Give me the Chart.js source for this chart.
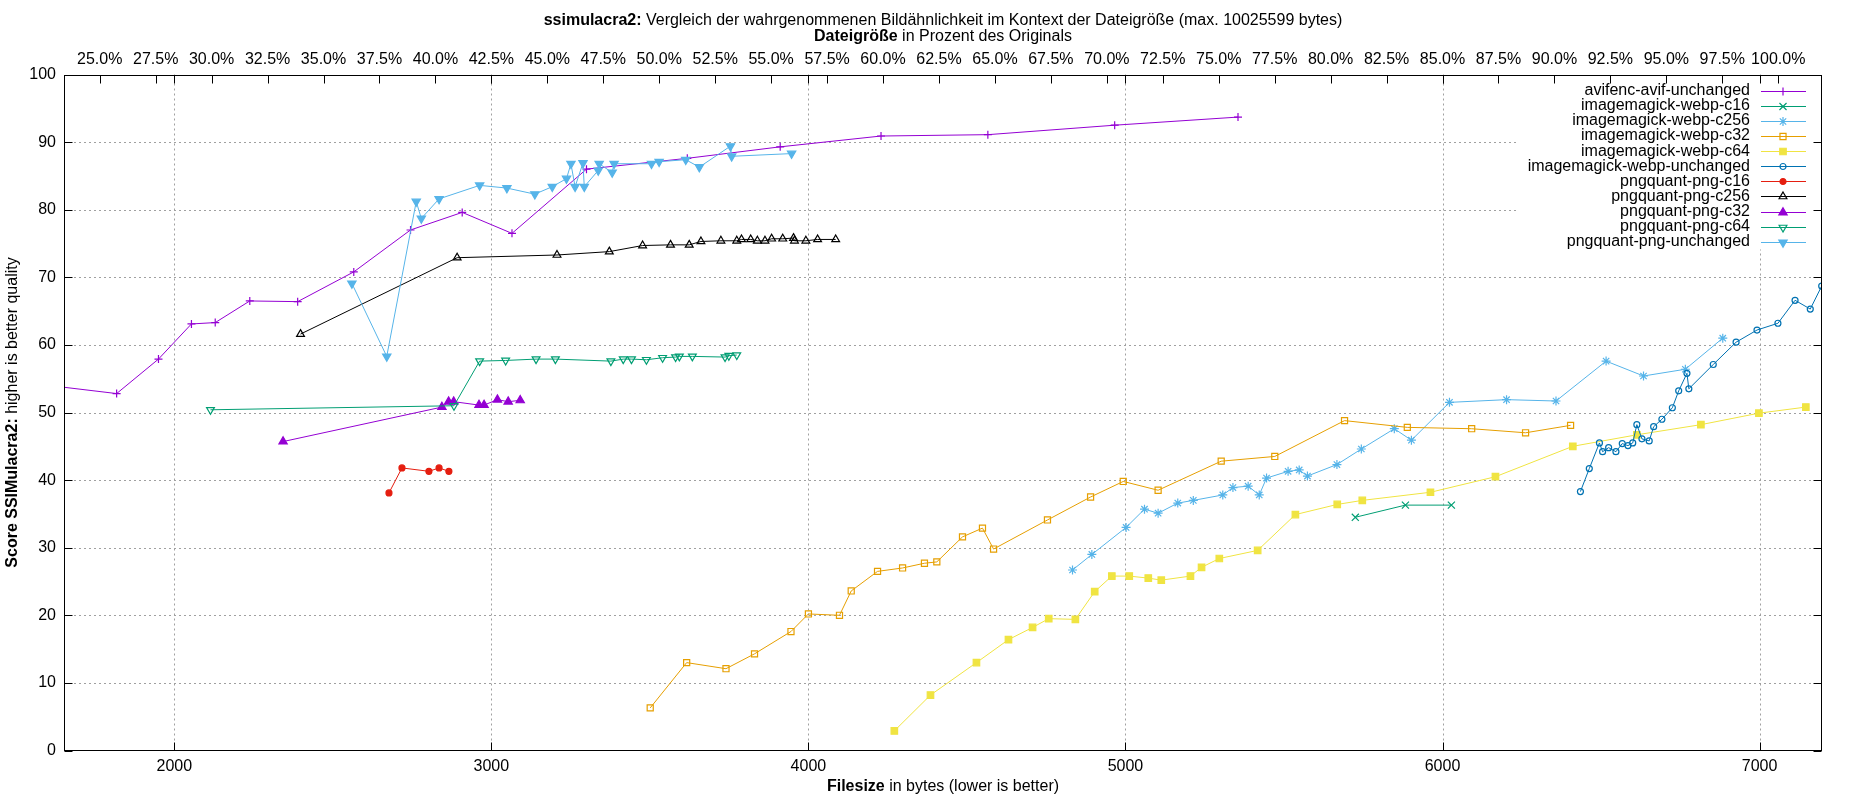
<!DOCTYPE html>
<html><head><meta charset="utf-8">
<script src="https://cdn.jsdelivr.net/npm/chart.js@4.4.0/dist/chart.umd.min.js"></script>
<style>html,body{margin:0;padding:0;background:#fff}canvas{display:block}</style>
</head><body>
<canvas id="c" width="1850" height="800"></canvas>
<script>
// ---------- data ----------
const ORIGINAL_SIZE = 7059;           // bytes corresponding to 100 %
const X_MIN = 1652, X_MAX = 7197;

const xTickValues = [2000, 3000, 4000, 5000, 6000, 7000];
const yTickValues = [0, 10, 20, 30, 40, 50, 60, 70, 80, 90, 100];
const topTickValues = [25.0, 27.5, 30.0, 32.5, 35.0, 37.5, 40.0, 42.5, 45.0, 47.5, 50.0, 52.5, 55.0, 57.5, 60.0, 62.5, 65.0, 67.5, 70.0, 72.5, 75.0, 77.5, 80.0, 82.5, 85.0, 87.5, 90.0, 92.5, 95.0, 97.5, 100.0];

const seriesNames = ['avifenc-avif-unchanged','imagemagick-webp-c16','imagemagick-webp-c256','imagemagick-webp-c32','imagemagick-webp-c64','imagemagick-webp-unchanged','pngquant-png-c16','pngquant-png-c256','pngquant-png-c32','pngquant-png-c64','pngquant-png-unchanged'];

const avifX = [1640, 1818, 1950, 2054, 2129, 2238, 2389, 2566, 2745, 2908, 3065, 3300, 3618, 3911, 4229, 4566, 4966, 5355];
const avifY = [53.8, 52.8, 57.9, 63.1, 63.3, 66.5, 66.4, 70.8, 77.0, 79.6, 76.5, 86.0, 87.6, 89.3, 90.9, 91.1, 92.5, 93.7];

const webpC16X = [5725, 5883, 6028];
const webpC16Y = [34.5, 36.3, 36.3];

const webpC256X = [4833, 4894, 5002, 5060, 5103, 5165, 5214, 5307, 5339, 5387, 5422, 5445, 5513, 5548, 5574, 5667, 5744, 5848, 5902, 6022, 6202, 6358, 6516, 6634, 6766, 6884];
const webpC256Y = [26.7, 29.0, 33.0, 35.7, 35.1, 36.6, 37.0, 37.8, 38.9, 39.1, 37.8, 40.3, 41.3, 41.5, 40.6, 42.3, 44.6, 47.6, 45.9, 51.5, 51.9, 51.7, 57.6, 55.4, 56.4, 61.0];

const webpC32X = [3501, 3616, 3740, 3830, 3945, 4000, 4098, 4135, 4218, 4297, 4366, 4405, 4486, 4549, 4584, 4754, 4890, 4993, 5103, 5302, 5471, 5691, 5889, 6092, 6262, 6404];
const webpC32Y = [6.3, 13.0, 12.1, 14.3, 17.6, 20.2, 20.0, 23.6, 26.5, 27.0, 27.7, 27.9, 31.6, 32.9, 29.8, 34.1, 37.5, 39.8, 38.5, 42.8, 43.5, 48.8, 47.8, 47.6, 47.0, 48.1];

const webpC64X = [4271, 4385, 4530, 4631, 4707, 4758, 4842, 4903, 4957, 5012, 5072, 5113, 5205, 5240, 5296, 5417, 5536, 5668, 5747, 5962, 6167, 6411, 6613, 6815, 6998, 7146];
const webpC64Y = [2.9, 8.2, 13.0, 16.4, 18.2, 19.5, 19.4, 23.5, 25.8, 25.8, 25.5, 25.2, 25.8, 27.1, 28.4, 29.6, 34.9, 36.4, 37.0, 38.2, 40.5, 45.0, 46.7, 48.2, 49.9, 50.8];

const webpUnchX = [6435, 6463, 6495, 6505, 6524, 6547, 6567, 6585, 6600, 6613, 6629, 6652, 6666, 6692, 6725, 6745, 6771, 6777, 6854, 6926, 6992, 7058, 7112, 7160, 7196];
const webpUnchY = [38.3, 41.7, 45.5, 44.2, 44.8, 44.2, 45.4, 45.1, 45.5, 48.2, 46.1, 45.8, 47.9, 49.0, 50.7, 53.2, 55.8, 53.5, 57.1, 60.4, 62.2, 63.2, 66.6, 65.3, 68.7];

const pngC16X = [2677, 2718, 2803, 2835, 2866];
const pngC16Y = [38.1, 41.8, 41.3, 41.8, 41.3];

const pngC256X = [2398, 2892, 3207, 3372, 3477, 3565, 3624, 3661, 3724, 3774, 3789, 3818, 3839, 3863, 3884, 3919, 3953, 3956, 3992, 4029, 4086];
const pngC256Y = [61.6, 72.9, 73.3, 73.8, 74.7, 74.8, 74.8, 75.3, 75.4, 75.4, 75.6, 75.6, 75.4, 75.4, 75.7, 75.7, 75.8, 75.4, 75.4, 75.6, 75.6];

const pngC32X = [2343, 2844, 2865, 2881, 2961, 2977, 3019, 3053, 3091];
const pngC32Y = [45.7, 50.8, 51.6, 51.6, 51.1, 51.1, 51.9, 51.6, 51.8];

const pngC64X = [2114, 2882, 2963, 3045, 3141, 3202, 3377, 3416, 3442, 3489, 3540, 3581, 3593, 3634, 3737, 3749, 3774];
const pngC64Y = [50.4, 51.0, 57.6, 57.7, 57.9, 57.9, 57.6, 57.9, 57.9, 57.8, 58.1, 58.2, 58.3, 58.3, 58.2, 58.4, 58.5];

const pngUnchX = [2560, 2670, 2763, 2779, 2835, 2963, 3049, 3137, 3192, 3237, 3251, 3264, 3289, 3293, 3337, 3340, 3381, 3387, 3505, 3529, 3613, 3656, 3754, 3758, 3947];
const pngUnchY = [69.1, 58.3, 81.2, 78.7, 81.6, 83.6, 83.2, 82.3, 83.4, 84.6, 86.8, 83.4, 86.9, 83.4, 85.8, 86.8, 85.5, 86.8, 86.8, 87.1, 87.4, 86.3, 89.4, 87.9, 88.3];

// ---------- styles ----------
const FONT = '"Liberation Sans", Arial, Helvetica, sans-serif';
const FS = 16;
const styles = [
  {color:'#9400d3', style:'cross',    radius:4,   fill:false, rot:0},
  {color:'#009e73', style:'crossRot', radius:5,   fill:false, rot:0},
  {color:'#56b4e9', style:'star',     radius:4.5, fill:false, rot:0},
  {color:'#e69f00', style:'rect',     radius:4.3, fill:false, rot:0},
  {color:'#f0e442', style:'rect',     radius:4.6, fill:true,  rot:0},
  {color:'#0072b2', style:'circle',   radius:3,   fill:false, rot:0},
  {color:'#e51e10', style:'circle',   radius:3,   fill:true,  rot:0},
  {color:'#000000', style:'triangle', radius:4.5, fill:false, rot:0},
  {color:'#9400d3', style:'triangle', radius:4.8, fill:true,  rot:0},
  {color:'#009e73', style:'triangle', radius:4.5, fill:false, rot:180},
  {color:'#56b4e9', style:'triangle', radius:4.8, fill:true,  rot:180}
];
const seriesX = [avifX, webpC16X, webpC256X, webpC32X, webpC64X, webpUnchX, pngC16X, pngC256X, pngC32X, pngC64X, pngUnchX];
const seriesY = [avifY, webpC16Y, webpC256Y, webpC32Y, webpC64Y, webpUnchY, pngC16Y, pngC256Y, pngC32Y, pngC64Y, pngUnchY];

const datasets = seriesNames.map((name, i) => {
  const s = styles[i];
  return {
    label: name,
    data: seriesX[i].map((x, k) => ({x: x, y: seriesY[i][k]})),
    showLine: true,
    borderColor: s.color,
    borderWidth: 1,
    backgroundColor: s.fill ? s.color : 'rgba(0,0,0,0)',
    pointStyle: s.style,
    pointRadius: s.radius,
    pointRotation: s.rot,
    pointBorderWidth: 1.2,
    pointBorderColor: s.color,
    pointBackgroundColor: s.fill ? s.color : 'rgba(0,0,0,0)',
    xAxisID: 'x', yAxisID: 'y',
    order: seriesNames.length - i
  };
});

// ---------- helpers ----------
function drawMarker(ctx, s, x, y) {
  const r = s.radius;
  ctx.save();
  ctx.translate(x, y);
  ctx.rotate(s.rot * Math.PI / 180);
  ctx.strokeStyle = s.color; ctx.fillStyle = s.color; ctx.lineWidth = 1.2;
  ctx.beginPath();
  if (s.style === 'cross') { ctx.moveTo(-r,0); ctx.lineTo(r,0); ctx.moveTo(0,-r); ctx.lineTo(0,r); ctx.stroke(); }
  else if (s.style === 'crossRot') { const d = r*Math.SQRT1_2; ctx.moveTo(-d,-d); ctx.lineTo(d,d); ctx.moveTo(-d,d); ctx.lineTo(d,-d); ctx.stroke(); }
  else if (s.style === 'star') { const d = r*Math.SQRT1_2; ctx.moveTo(-r,0); ctx.lineTo(r,0); ctx.moveTo(0,-r); ctx.lineTo(0,r); ctx.moveTo(-d,-d); ctx.lineTo(d,d); ctx.moveTo(-d,d); ctx.lineTo(d,-d); ctx.stroke(); }
  else if (s.style === 'rect') { const h = r*Math.SQRT1_2; ctx.rect(-h,-h,2*h,2*h); if (s.fill) ctx.fill(); ctx.stroke(); }
  else if (s.style === 'circle') { ctx.arc(0,0,r,0,Math.PI*2); if (s.fill) ctx.fill(); ctx.stroke(); }
  else if (s.style === 'triangle') {
    for (let k = 0; k < 3; k++) { const a = -Math.PI/2 + k*2*Math.PI/3; const px = Math.cos(a)*r, py = Math.sin(a)*r; if (k===0) ctx.moveTo(px,py); else ctx.lineTo(px,py); }
    ctx.closePath(); if (s.fill) ctx.fill(); ctx.stroke();
  }
  ctx.restore();
}
function drawMixed(ctx, parts, cx, y) {
  let total = 0;
  const widths = parts.map(p => { ctx.font = (p.bold ? 'bold ' : '') + FS + 'px ' + FONT; const w = ctx.measureText(p.text).width; total += w; return w; });
  let x = cx - total / 2;
  ctx.textAlign = 'left';
  parts.forEach((p, i) => { ctx.font = (p.bold ? 'bold ' : '') + FS + 'px ' + FONT; ctx.fillText(p.text, x, y); x += widths[i]; });
}

const LEGEND_LEFT_OFFSET = 304;   // distance of the key box from the right border
const LEGEND_HEIGHT = 174;

const gnuplotLook = {
  id: 'gnuplotLook',
  beforeDatasetsDraw(chart) {
    const {ctx, chartArea: ca, scales} = chart;
    ctx.save();
    ctx.strokeStyle = '#a0a0a0'; ctx.lineWidth = 1; ctx.setLineDash([2, 3]);
    scales.x.ticks.forEach(t => {
      const px = Math.round(scales.x.getPixelForValue(t.value)) + 0.5;
      ctx.beginPath(); ctx.moveTo(px, ca.bottom); ctx.lineTo(px, ca.top); ctx.stroke();
    });
    scales.y.ticks.forEach(t => {
      if (t.value <= 0 || t.value >= 100) return;
      const py = Math.round(scales.y.getPixelForValue(t.value)) + 0.5;
      ctx.beginPath(); ctx.moveTo(ca.left, py); ctx.lineTo(ca.right, py); ctx.stroke();
    });
    ctx.setLineDash([]);
    // opaque key box
    ctx.fillStyle = '#fff';
    ctx.fillRect(ca.right - LEGEND_LEFT_OFFSET, ca.top + 1, LEGEND_LEFT_OFFSET - 1, LEGEND_HEIGHT);
    ctx.restore();
  },
  afterDatasetsDraw(chart) {
    const {ctx, chartArea: ca, scales} = chart;
    ctx.save();
    // frame
    ctx.strokeStyle = '#000'; ctx.lineWidth = 1;
    const L = Math.round(ca.left) + 0.5, R = Math.round(ca.right) - 0.5, T = Math.round(ca.top) + 0.5, B = Math.round(ca.bottom) - 0.5;
    ctx.strokeRect(L, T, R - L, B - T);
    // inward ticks
    const TL = 8;
    ctx.beginPath();
    scales.x.ticks.forEach(t => {
      const px = Math.round(scales.x.getPixelForValue(t.value)) + 0.5;
      ctx.moveTo(px, B); ctx.lineTo(px, B - TL);
      ctx.moveTo(px, T); ctx.lineTo(px, T + TL);
    });
    scales.x2.ticks.forEach(t => {
      const px = Math.round(scales.x2.getPixelForValue(t.value)) + 0.5;
      ctx.moveTo(px, T); ctx.lineTo(px, T + TL);
    });
    scales.y.ticks.forEach(t => {
      const py = Math.round(scales.y.getPixelForValue(t.value)) + 0.5;
      ctx.moveTo(L, py); ctx.lineTo(L + TL, py);
      ctx.moveTo(R, py); ctx.lineTo(R - TL, py);
    });
    ctx.stroke();

    // key
    ctx.font = FS + 'px ' + FONT;
    ctx.fillStyle = '#000'; ctx.textAlign = 'right'; ctx.textBaseline = 'middle';
    const textRight = ca.right - 72, lineA = ca.right - 61, lineB = ca.right - 16, markX = ca.right - 39;
    seriesNames.forEach((name, i) => {
      const y = ca.top + 16.2 + i * 15.1;
      ctx.fillStyle = '#000';
      ctx.fillText(name, textRight, y);
      ctx.strokeStyle = styles[i].color; ctx.lineWidth = 1;
      ctx.beginPath(); ctx.moveTo(lineA, Math.round(y) + 0.5); ctx.lineTo(lineB, Math.round(y) + 0.5); ctx.stroke();
      drawMarker(ctx, styles[i], markX, Math.round(y) + 0.5);
    });

    // titles
    ctx.fillStyle = '#000'; ctx.textBaseline = 'middle';
    const cx = (ca.left + ca.right) / 2;
    drawMixed(ctx, [{text:'ssimulacra2:', bold:true}, {text:' Vergleich der wahrgenommenen Bildähnlichkeit im Kontext der Dateigröße (max. 10025599 bytes)', bold:false}], cx, 21);
    drawMixed(ctx, [{text:'Dateigröße', bold:true}, {text:' in Prozent des Originals', bold:false}], cx, 37);
    drawMixed(ctx, [{text:'Filesize', bold:true}, {text:' in bytes (lower is better)', bold:false}], cx, 787);
    ctx.save();
    ctx.translate(13, (ca.top + ca.bottom) / 2);
    ctx.rotate(-Math.PI / 2);
    drawMixed(ctx, [{text:'Score SSIMulacra2:', bold:true}, {text:' higher is better quality', bold:false}], 0, 0);
    ctx.restore();
    ctx.restore();
  }
};

const tickFont = {family: FONT, size: FS};
new Chart(document.getElementById('c'), {
  type: 'scatter',
  data: {datasets: datasets},
  options: {
    responsive: false, animation: false, devicePixelRatio: 1, events: [],
    layout: {padding: {left: 0, right: 28, top: 0, bottom: 0}},
    plugins: {legend: {display: false}, title: {display: false}, tooltip: {enabled: false}},
    scales: {
      x: {
        type: 'linear', position: 'bottom', min: X_MIN, max: X_MAX,
        grid: {display: false, drawTicks: false}, border: {display: false},
        ticks: {font: tickFont, color: '#000', padding: 6, maxRotation: 0, minRotation: 0, autoSkip: false, includeBounds: false, callback: v => String(v)},
        afterBuildTicks: s => { s.ticks = xTickValues.map(v => ({value: v})); },
        afterFit: s => { s.height = 49.5; }
      },
      x2: {
        type: 'linear', position: 'top', min: X_MIN / ORIGINAL_SIZE * 100, max: X_MAX / ORIGINAL_SIZE * 100,
        grid: {display: false, drawTicks: false}, border: {display: false},
        ticks: {font: tickFont, color: '#000', padding: 5, maxRotation: 0, minRotation: 0, autoSkip: false, includeBounds: false, callback: v => Number(v).toFixed(1) + '%'},
        afterBuildTicks: s => { s.ticks = topTickValues.map(v => ({value: v})); },
        afterFit: s => { s.height = 74.5; }
      },
      y: {
        type: 'linear', position: 'left', min: 0, max: 100,
        grid: {display: false, drawTicks: false}, border: {display: false},
        ticks: {font: tickFont, color: '#000', padding: 8, autoSkip: false, includeBounds: false},
        afterBuildTicks: s => { s.ticks = yTickValues.map(v => ({value: v})); },
        afterFit: s => { s.width = 64; }
      }
    }
  },
  plugins: [gnuplotLook]
});
</script>
</body></html>
